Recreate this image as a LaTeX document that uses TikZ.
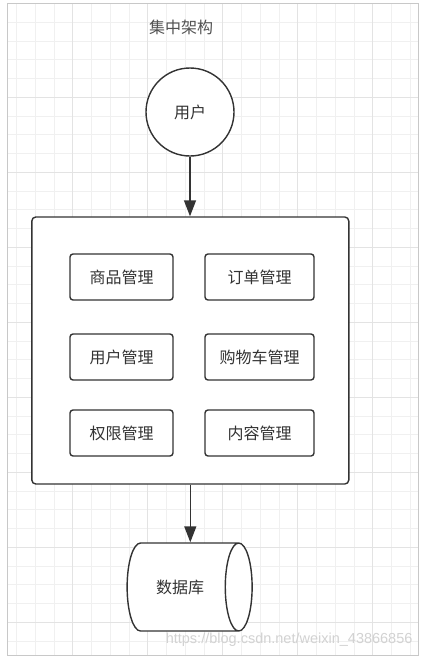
\documentclass[tikz,border=0pt]{standalone}
\usepackage{fontspec}
\newfontfamily\cjk{Noto Sans CJK SC}
\newfontfamily\wmfont{Liberation Sans}
\usetikzlibrary{arrows.meta,shapes.geometric,positioning}
\definecolor{gridminor}{HTML}{F0F0F0}
\definecolor{gridmajor}{HTML}{E3E3E3}
\definecolor{inkdark}{HTML}{333333}
\definecolor{framegray}{HTML}{C8C8C8}
\begin{document}
\begin{tikzpicture}[x=1pt,y=-1pt,
    box/.style={draw=inkdark, line width=1.4pt, fill=white},
    label16/.style={font=\fontsize{16}{18}\cjk, text=inkdark},
    module/.style={box, label16, rounded corners=3pt, minimum height=46pt},
    flow/.style={draw=inkdark, line width=1.4pt, -{Triangle[length=16pt,width=12pt]}}]
    \useasboundingbox[fill=white] (0,0) rectangle (425,659);

    % Background grid
    \foreach \k in {0,...,21} {
        \pgfmathsetmacro\gx{16.4+18.75*\k}
        \draw[gridminor, line width=0.8pt] (\gx,3.5) -- (\gx,655);
    }
    \foreach \k in {0,...,33} {
        \pgfmathsetmacro\gy{22.3+18.75*\k}
        \draw[gridminor, line width=0.8pt] (7,\gy) -- (418,\gy);
    }
    \foreach \gx in {72.7,147.7,222.7,297.7,372.7}
        \draw[gridmajor, line width=0.8pt] (\gx,3.5) -- (\gx,655);
    \foreach \gy in {97.3,172.3,247.3,322.3,397.3,472.3,547.3,622.3}
        \draw[gridmajor, line width=0.8pt] (7,\gy) -- (418,\gy);
    \draw[framegray, line width=1pt] (7,3.5) rectangle (418,655);

    % Title and user
    \node[label16, text=inkdark!85] (title) at (181,27) {集中架构};
    \node[box, label16, circle, minimum size=88pt] (user) at (190,112) {用户};

    % System box with modules
    \node[box, rounded corners=4pt, minimum width=317pt, minimum height=267pt] (sys) at (190.3,350.5) {};
    \node[module, minimum width=103pt] (goods) at (121.5,277) {商品管理};
    \node[module, minimum width=109pt] (order) at (259.5,277) {订单管理};
    \node[module, minimum width=103pt] (users) at (121.5,357) {用户管理};
    \node[module, minimum width=109pt] (cart) at (259.5,357) {购物车管理};
    \node[module, minimum width=103pt] (perm) at (121.5,433) {权限管理};
    \node[module, minimum width=109pt] (content) at (259.5,433) {内容管理};

    % Database
    \node[box, label16, cylinder, aspect=1.25, minimum width=88pt, minimum height=125pt] (db) at (180,587) {数据库\hspace{19pt}};

    % Connectors
    \draw[flow] (user.south) -- (user.south |- sys.north);
    \draw[flow] (sys.south) -- (sys.south |- db.north);

    % Watermark
    \node[font=\fontsize{14.5}{16}\wmfont, text=gray!35, anchor=east] (mark) at (416,640) {https://blog.csdn.net/weixin\_43866856};
\end{tikzpicture}
\end{document}
